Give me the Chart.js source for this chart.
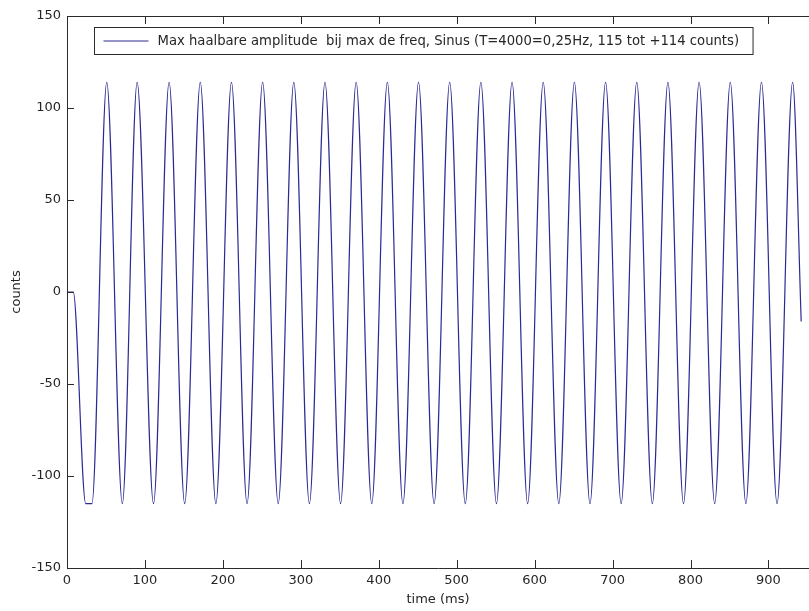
<!DOCTYPE html>
<html>
<head>
<meta charset="utf-8">
<script src="https://cdn.jsdelivr.net/npm/chart.js@4.4.1/dist/chart.umd.min.js"></script>
<style>
html, body { margin: 0; padding: 0; background: #fff; }
#wrap { width: 809px; height: 611px; }
</style>
</head>
<body>
<div id="wrap"><canvas id="sineChart"></canvas></div>
<script>
// values: turning points of the sine (ms, counts)
const timeMs = [0, 8, 24, 32, 51, 71, 90, 111, 131, 151, 171, 191, 211, 231, 251,
    271, 291, 311, 331, 351, 371, 391, 411, 431, 451, 471, 491, 511, 531, 551,
    571, 591, 611, 631, 651, 671, 691, 711, 731, 751, 771, 791, 811, 831, 851,
    871, 891, 911, 931, 942];
const counts = [0, 0, -115, -115, 114, -115, 114, -115, 114, -115, 114, -115, 114, -115, 114,
    -115, 114, -115, 114, -115, 114, -115, 114, -115, 114, -115, 114, -115, 114, -115,
    114, -115, 114, -115, 114, -115, 114, -115, 114, -115, 114, -115, 114, -115, 114,
    -115, 114, -115, 114, -16];
const xTicks = [0, 100, 200, 300, 400, 500, 600, 700, 800, 900];
const yTicks = [-150, -100, -50, 0, 50, 100, 150];
const legendLabel = 'Max haalbare amplitude  bij max de freq, Sinus (T=4000=0,25Hz, 115 tot +114 counts)';

const lineColor = '#2a2a94';
const axisColor = '#2b2b2b';
const textColor = '#262626';
const fontFamily = '"DejaVu Sans", sans-serif';

const matlabFrame = {
    id: 'matlabFrame',
    afterDatasetsDraw(chart) {
        const { ctx, chartArea: a, scales } = chart;
        ctx.save();
        ctx.strokeStyle = axisColor;
        ctx.lineWidth = 1;
        ctx.beginPath();
        ctx.moveTo(a.left, a.top + 0.5);
        ctx.lineTo(a.right, a.top + 0.5);
        ctx.stroke();
        // inward tick marks, matlab style
        xTicks.forEach(v => {
            const px = Math.round(scales.x.getPixelForValue(v)) + 0.5;
            ctx.beginPath();
            ctx.moveTo(px, a.bottom);
            ctx.lineTo(px, a.bottom - 8);
            ctx.moveTo(px, a.top);
            ctx.lineTo(px, a.top + 8);
            ctx.stroke();
        });
        yTicks.forEach(v => {
            const py = Math.round(scales.y.getPixelForValue(v)) + 0.5;
            ctx.beginPath();
            ctx.moveTo(a.left, py);
            ctx.lineTo(a.left + 7, py);
            ctx.stroke();
        });

        // legend box, top left inside the axes
        ctx.font = '13.2px ' + fontFamily;
        const textW = ctx.measureText(legendLabel).width;
        const bx = a.left + 27.5, by = a.top + 11.5;
        const bw = 63 + textW + 14, bh = 27;
        ctx.fillStyle = '#ffffff';
        ctx.fillRect(bx, by, bw, bh);
        ctx.strokeRect(bx, by, bw, bh);
        ctx.strokeStyle = lineColor;
        ctx.beginPath();
        ctx.moveTo(bx + 9, by + 13.5);
        ctx.lineTo(bx + 54, by + 13.5);
        ctx.stroke();
        ctx.fillStyle = textColor;
        ctx.textBaseline = 'middle';
        ctx.fillText(legendLabel, bx + 63, by + 14);
        ctx.restore();
    }
};

const ctx = document.getElementById('sineChart').getContext('2d');
new Chart(ctx, {
    type: 'line',
    data: {
        datasets: [{
            label: legendLabel,
            data: timeMs.map((t, i) => ({ x: t, y: counts[i] })),
            borderColor: lineColor,
            borderWidth: 1.2,
            pointRadius: 0,
            fill: false,
            cubicInterpolationMode: 'monotone'
        }]
    },
    options: {
        responsive: true,
        maintainAspectRatio: false,
        animation: false,
        layout: { padding: { top: 16, right: 0, left: 0, bottom: 0 } },
        plugins: {
            legend: { display: false },
            tooltip: { enabled: false }
        },
        scales: {
            x: {
                type: 'linear',
                min: 0,
                max: 952,
                afterFit: s => { s.height = 43; },
                grid: { display: false, drawTicks: false },
                border: { display: true, color: axisColor, width: 1 },
                ticks: {
                    stepSize: 100,
                    includeBounds: false,
                    autoSkip: false,
                    maxRotation: 0,
                    padding: 5,
                    color: textColor,
                    font: { family: fontFamily, size: 13 }
                },
                title: {
                    display: true,
                    text: 'time (ms)',
                    color: textColor,
                    font: { family: fontFamily, size: 13 },
                    padding: { top: 0, bottom: 4 }
                }
            },
            y: {
                min: -150,
                max: 150,
                afterFit: s => { s.width = 67; },
                grid: { display: false, drawTicks: false },
                border: { display: true, color: axisColor, width: 1 },
                ticks: {
                    stepSize: 50,
                    padding: 6,
                    color: textColor,
                    font: { family: fontFamily, size: 13 }
                },
                title: {
                    display: true,
                    text: 'counts',
                    color: textColor,
                    font: { family: fontFamily, size: 13 },
                    padding: { top: 9, bottom: 0 }
                }
            }
        }
    },
    plugins: [matlabFrame]
});
</script>
</body>
</html>
